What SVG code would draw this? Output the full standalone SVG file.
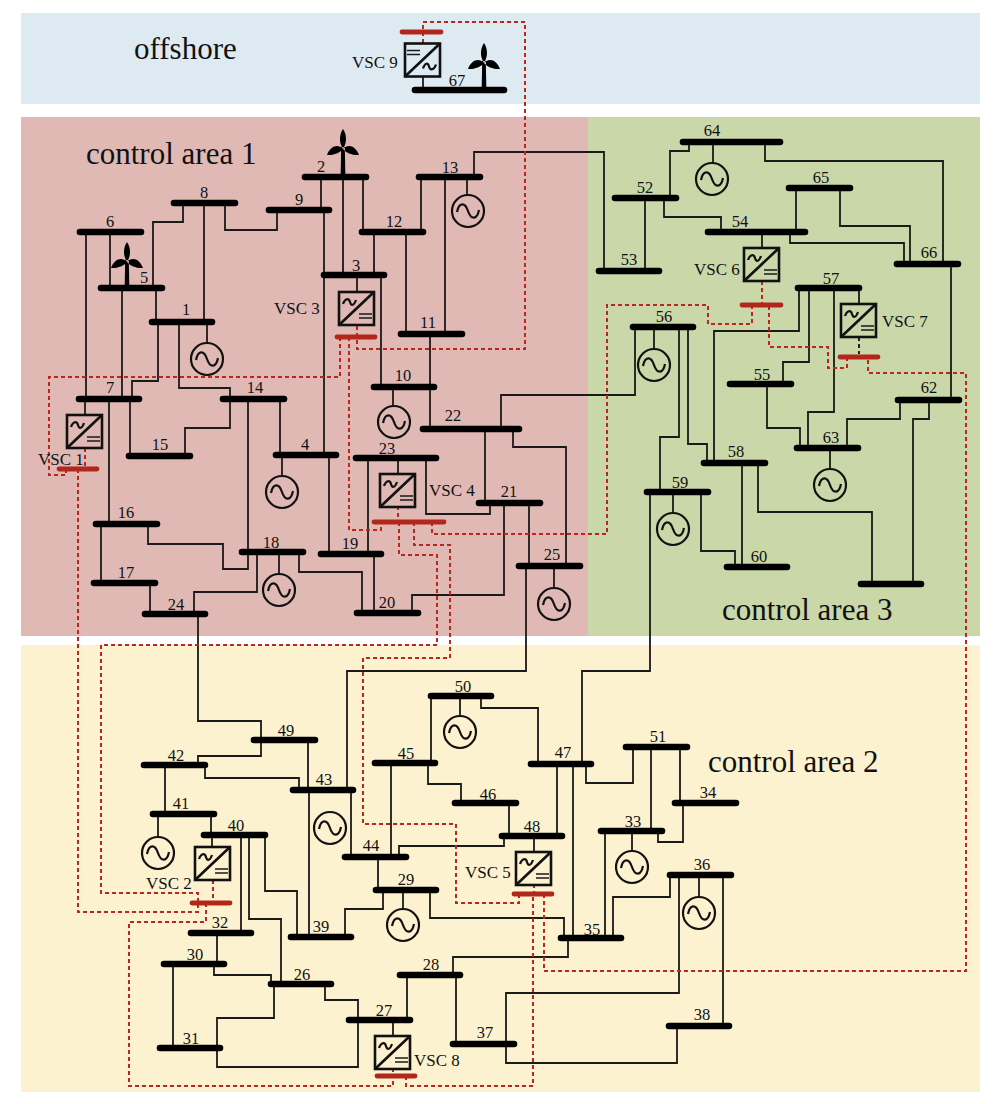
<svg xmlns="http://www.w3.org/2000/svg" width="1000" height="1104" viewBox="0 0 1000 1104">
<style>
text{font-family:"Liberation Serif","Times New Roman",serif;fill:#111}
.n{font-size:16.5px;text-anchor:middle}
.v{font-size:17px}
.a{font-size:31px}
.bus{stroke:#000;stroke-width:6.6;stroke-linecap:round;fill:none}
.rb{stroke:#b3261c;stroke-width:4.8;stroke-linecap:round;fill:none}
.w path{fill:none;stroke:#1a1a1a;stroke-width:1.8}
.d path{fill:none;stroke:#b9271e;stroke-width:2;stroke-dasharray:4 3}
.g{fill:none;stroke:#111;stroke-width:2.2}
.b{fill:none;stroke:#111;stroke-width:2.6}
.s{fill:none;stroke:#1a1a1a;stroke-width:1.5}
</style>
<defs>
<g id="gen"><circle class="g" r="16"/><path class="g" d="M-11 1C-9-9-3-9 0 0S9 9 11-1"/></g>
<g id="vsc"><rect class="b" width="35" height="33"/><path class="b" d="M0 33L35 0"/><path class="g" d="M4 12C6 6 10 6 11 10S15 14 17 8"/><path class="s" d="M20 22H33M20 26H33"/></g>
<g id="wt"><path d="M0 2C-4.500-5-3.500-13 0-18C3.500-13 4.500-5 0 2ZM0 2C-5-4-13-1-16 8C-10 8.500-3 6 0 2ZM0 2C5-4 13-1 16 8C10 8.500 3 6 0 2ZM-1.800 0L-2.400 30H2.400L1.800 0Z"/></g>
</defs>
<g id="areas">
<rect x="21" y="13" width="959" height="91" fill="#deeaf1"/>
<rect x="21" y="117" width="567" height="519" fill="#e0b9b5"/>
<rect x="588" y="117" width="392" height="519" fill="#cad7a8"/>
<rect x="21" y="645" width="959" height="447" fill="#fdf2d0"/>
<text class="a" x="134" y="59">offshore</text>
<text class="a" x="86" y="164">control area 1</text>
<text class="a" x="722" y="620">control area 3</text>
<text class="a" x="708" y="772">control area 2</text>
</g>
<g id="connectors" class="w">
<path d="M86 232V399M110 232V288M122 288V399M183 203V222H153V288M156 288V322M204 203V322M225 203V230H277V210M321 177V210M324 210V455M207 322V343"/>
<path d="M343 177V275M363 177V232M374 232V275M406 232V334M421 177V232M445 177V334M474 177V152H604V270M467 177V195M357 275V292M381 275V387M430 334V429M393 387V406"/>
<path d="M501 429V395H635V327M485 429V503M513 429V447H566V566M368 458V554M398 458V474M426 458V514H490V503M504 503V595H412V613M529 503V566M526 566V671H347V790M554 566V588M374 554V613M299 552V572H362V613M329 455V554M282 455V476M280 399V455"/>
<path d="M148 524V544H223V569H248V399M230 399V428H185V456M179 322V388H230V399M158 322V381H132V399M130 399V456M109 399V524M85 399V415M101 524V583M150 583V614M257 552V592H194V614M279 552V574"/>
<path d="M198 614V721H261V756H198V765M308 740V790M165 765V814M205 765V778H299V790M309 790V937M351 790V857M158 814V837M211 814V835M212 835V847M241 835V933M249 835V919H281V984M265 835V891H297V937M217 933V964M173 964V1048M214 964V975H271V984M274 984V1018H217V1067H358V1020M325 984V1000H358V1020"/>
<path d="M345 937V909H383V890M378 857V890M391 763V857M399 857V846H504V836M431 696V763M428 763V784H461V803M509 803V836M460 696V716M481 696V708H538V764M557 764V836M573 764V938M650 492V671H582V764M586 764V783H633V747M651 747V831M680 747V803M683 803V842H658V831M605 831V938M632 831V851M613 938V897H670V875M679 875V993H506V1063H677V1026M723 875V1026M699 875V897M430 890V918H564V938M568 938V957H453V975M407 975V1020M456 975V1044M393 1020V1036M534 836V852M403 890V909M423 77V90"/>
<path d="M689 142V151H670V198M713 142V163M765 142V161H943V264M645 198V271M664 198V217H721V232M796 188V232M840 188V226H910V264M790 232V243H904V264M762 232V248M859 288V304M799 288V331H714V463M809 288V362H783V384M834 288V412H808V448M767 384V428H800V448M951 264V400M900 400V419H847V448M929 400V419H913V584M830 448V469M742 463V567M758 463V512H872V584M701 492V551H735V567M673 492V513M679 327V437H660V492M688 327V444H707V463M654 327V349"/>
</g>
<g id="control-links" class="d">
<path d="M423 43V22H525V349H357V325"/>
<path d="M340 337V377H49V475H66V469"/>
<path d="M349 337V530H381V522"/>
<path d="M85 448V469M78 469V912H198V903"/>
<path d="M213 880V903"/>
<path d="M399 522V555H437V645H101V893H198V903"/>
<path d="M206 903V922H129V1086H393V1076M393 1068V1076"/>
<path d="M406 1076V1086H533V894M534 884V894"/>
<path d="M519 894V903H456V824H363V658H450V545H414V522"/>
<path d="M544 894V971H966V373H868V357"/>
<path d="M847 357V368H828V347H769V305"/>
<path d="M762 281V305M752 305V324H708V305H607V534H432V522"/>
<path d="M398 506V522"/>
<path d="M859 337V354" style="stroke:#222"/>
</g>
<g id="bus-1"><path class="bus" d="M152 322H212"/><text class="n" x="186" y="315">1</text><use href="#gen" x="207" y="359"/></g>
<g id="bus-2"><path class="bus" d="M305 177H366"/><text class="n" x="321" y="172">2</text><use href="#wt" x="343" y="147"/></g>
<g id="bus-3"><path class="bus" d="M324 275H384"/><text class="n" x="356" y="271">3</text></g>
<g id="bus-4"><path class="bus" d="M276 455H336"/><text class="n" x="305" y="450">4</text><use href="#gen" x="282" y="492"/></g>
<g id="bus-5"><path class="bus" d="M101 288H162"/><text class="n" x="144" y="283">5</text><use href="#wt" x="127" y="260"/></g>
<g id="bus-6"><path class="bus" d="M80 232H141"/><text class="n" x="110" y="227">6</text></g>
<g id="bus-7"><path class="bus" d="M79 399H139"/><text class="n" x="110" y="393">7</text></g>
<g id="bus-8"><path class="bus" d="M174 203H235"/><text class="n" x="204" y="198">8</text></g>
<g id="bus-9"><path class="bus" d="M269 210H329"/><text class="n" x="299" y="205">9</text></g>
<g id="bus-10"><path class="bus" d="M374 387H434"/><text class="n" x="403" y="381">10</text><use href="#gen" x="394" y="422"/></g>
<g id="bus-11"><path class="bus" d="M401 334H462"/><text class="n" x="428" y="328">11</text></g>
<g id="bus-12"><path class="bus" d="M362 232H423"/><text class="n" x="394" y="227">12</text></g>
<g id="bus-13"><path class="bus" d="M419 177H480"/><text class="n" x="450" y="173">13</text><use href="#gen" x="468" y="211"/></g>
<g id="bus-14"><path class="bus" d="M223 399H284"/><text class="n" x="255" y="393">14</text></g>
<g id="bus-15"><path class="bus" d="M129 456H190"/><text class="n" x="160" y="450">15</text></g>
<g id="bus-16"><path class="bus" d="M96 524H157"/><text class="n" x="126" y="518">16</text></g>
<g id="bus-17"><path class="bus" d="M94 583H155"/><text class="n" x="126" y="578">17</text></g>
<g id="bus-18"><path class="bus" d="M242 552H303"/><text class="n" x="271" y="548">18</text><use href="#gen" x="279" y="590"/></g>
<g id="bus-19"><path class="bus" d="M321 554H381"/><text class="n" x="350" y="549">19</text></g>
<g id="bus-20"><path class="bus" d="M357 613H418"/><text class="n" x="387" y="608">20</text></g>
<g id="bus-21"><path class="bus" d="M479 503H540"/><text class="n" x="509" y="497">21</text></g>
<g id="bus-22"><path class="bus" d="M423 429H519"/><text class="n" x="453" y="421">22</text></g>
<g id="bus-23"><path class="bus" d="M356 458H436"/><text class="n" x="387" y="454">23</text></g>
<g id="bus-24"><path class="bus" d="M145 614H205"/><text class="n" x="176" y="610">24</text></g>
<g id="bus-25"><path class="bus" d="M519 566H580"/><text class="n" x="552" y="560">25</text><use href="#gen" x="554" y="604"/></g>
<g id="bus-26"><path class="bus" d="M271 984H331"/><text class="n" x="302" y="980">26</text></g>
<g id="bus-27"><path class="bus" d="M349 1020H410"/><text class="n" x="384" y="1016">27</text></g>
<g id="bus-28"><path class="bus" d="M400 975H460"/><text class="n" x="431" y="970">28</text></g>
<g id="bus-29"><path class="bus" d="M376 890H436"/><text class="n" x="406" y="885">29</text><use href="#gen" x="403" y="925"/></g>
<g id="bus-30"><path class="bus" d="M164 964H224"/><text class="n" x="195" y="960">30</text></g>
<g id="bus-31"><path class="bus" d="M160 1048H220"/><text class="n" x="191" y="1044">31</text></g>
<g id="bus-32"><path class="bus" d="M191 933H251"/><text class="n" x="220" y="928">32</text></g>
<g id="bus-33"><path class="bus" d="M601 831H662"/><text class="n" x="633" y="827">33</text><use href="#gen" x="632" y="867"/></g>
<g id="bus-34"><path class="bus" d="M675 803H736"/><text class="n" x="708" y="798">34</text></g>
<g id="bus-35"><path class="bus" d="M561 938H621"/><text class="n" x="592" y="935">35</text></g>
<g id="bus-36"><path class="bus" d="M670 875H731"/><text class="n" x="702" y="870">36</text><use href="#gen" x="699" y="913"/></g>
<g id="bus-37"><path class="bus" d="M453 1044H514"/><text class="n" x="485" y="1038">37</text></g>
<g id="bus-38"><path class="bus" d="M669 1026H729"/><text class="n" x="702" y="1020">38</text></g>
<g id="bus-39"><path class="bus" d="M291 937H351"/><text class="n" x="321" y="932">39</text></g>
<g id="bus-40"><path class="bus" d="M204 835H265"/><text class="n" x="236" y="831">40</text></g>
<g id="bus-41"><path class="bus" d="M153 814H214"/><text class="n" x="181" y="809">41</text><use href="#gen" x="158" y="853"/></g>
<g id="bus-42"><path class="bus" d="M144 765H205"/><text class="n" x="176" y="761">42</text></g>
<g id="bus-43"><path class="bus" d="M293 790H353"/><text class="n" x="324" y="785">43</text><use href="#gen" x="330" y="828"/></g>
<g id="bus-44"><path class="bus" d="M345 857H406"/><text class="n" x="371" y="851">44</text></g>
<g id="bus-45"><path class="bus" d="M375 763H435"/><text class="n" x="406" y="759">45</text></g>
<g id="bus-46"><path class="bus" d="M455 803H516"/><text class="n" x="488" y="800">46</text></g>
<g id="bus-47"><path class="bus" d="M531 764H591"/><text class="n" x="563" y="758">47</text></g>
<g id="bus-48"><path class="bus" d="M502 836H562"/><text class="n" x="532" y="832">48</text></g>
<g id="bus-49"><path class="bus" d="M254 740H315"/><text class="n" x="286" y="736">49</text></g>
<g id="bus-50"><path class="bus" d="M431 696H491"/><text class="n" x="463" y="692">50</text><use href="#gen" x="460" y="732"/></g>
<g id="bus-51"><path class="bus" d="M626 747H687"/><text class="n" x="658" y="742">51</text></g>
<g id="bus-52"><path class="bus" d="M615 198H676"/><text class="n" x="645" y="193">52</text></g>
<g id="bus-53"><path class="bus" d="M599 271H659"/><text class="n" x="629" y="265">53</text></g>
<g id="bus-54"><path class="bus" d="M708 232H805"/><text class="n" x="740" y="227">54</text></g>
<g id="bus-55"><path class="bus" d="M730 384H791"/><text class="n" x="762" y="380">55</text></g>
<g id="bus-56"><path class="bus" d="M633 327H693"/><text class="n" x="664" y="322">56</text><use href="#gen" x="654" y="365"/></g>
<g id="bus-57"><path class="bus" d="M798 288H859"/><text class="n" x="831" y="284">57</text></g>
<g id="bus-58"><path class="bus" d="M704 463H765"/><text class="n" x="736" y="457">58</text></g>
<g id="bus-59"><path class="bus" d="M647 492H708"/><text class="n" x="680" y="488">59</text><use href="#gen" x="673" y="529"/></g>
<g id="bus-60"><path class="bus" d="M727 567H787"/><text class="n" x="759" y="562">60</text></g>
<g id="bus-61"><path class="bus" d="M861 584H921"/></g>
<g id="bus-62"><path class="bus" d="M898 400H959"/><text class="n" x="929" y="393">62</text></g>
<g id="bus-63"><path class="bus" d="M797 448H858"/><text class="n" x="831" y="443">63</text><use href="#gen" x="830" y="485"/></g>
<g id="bus-64"><path class="bus" d="M683 142H780"/><text class="n" x="712" y="136">64</text><use href="#gen" x="712" y="179"/></g>
<g id="bus-65"><path class="bus" d="M789 188H850"/><text class="n" x="821" y="183">65</text></g>
<g id="bus-66"><path class="bus" d="M897 264H958"/><text class="n" x="929" y="258">66</text></g>
<g id="bus-67"><path class="bus" d="M415 90H504"/><text class="n" x="457" y="86">67</text><use href="#wt" x="484" y="61"/></g>
<g id="vsc-1"><use href="#vsc" x="67" y="415"/><path class="rb" d="M59 469H97"/><text class="v" x="38" y="465">VSC 1</text></g>
<g id="vsc-2"><use href="#vsc" x="195" y="847"/><path class="rb" d="M192 903H230"/><text class="v" x="146" y="889">VSC 2</text></g>
<g id="vsc-3"><use href="#vsc" x="339" y="292"/><path class="rb" d="M337 337H375"/><text class="v" x="274" y="314">VSC 3</text></g>
<g id="vsc-4"><use href="#vsc" x="380" y="474"/><path class="rb" d="M374 522H444"/><text class="v" x="429" y="496">VSC 4</text></g>
<g id="vsc-5"><use href="#vsc" x="516" y="852"/><path class="rb" d="M514 894H552"/><text class="v" x="465" y="878">VSC 5</text></g>
<g id="vsc-6"><use href="#vsc" x="744" y="248"/><path class="rb" d="M742 305H781"/><text class="v" x="694" y="275">VSC 6</text></g>
<g id="vsc-7"><use href="#vsc" x="841" y="304"/><path class="rb" d="M840 357H878"/><text class="v" x="882" y="327">VSC 7</text></g>
<g id="vsc-8"><use href="#vsc" x="375" y="1036"/><path class="rb" d="M377 1076H415"/><text class="v" x="414" y="1066">VSC 8</text></g>
<g id="vsc-9"><use href="#vsc" transform="rotate(180 422.500 60)" x="405" y="43.500"/><path class="rb" d="M402 32H441"/><text class="v" x="352" y="68">VSC 9</text></g>
</svg>
